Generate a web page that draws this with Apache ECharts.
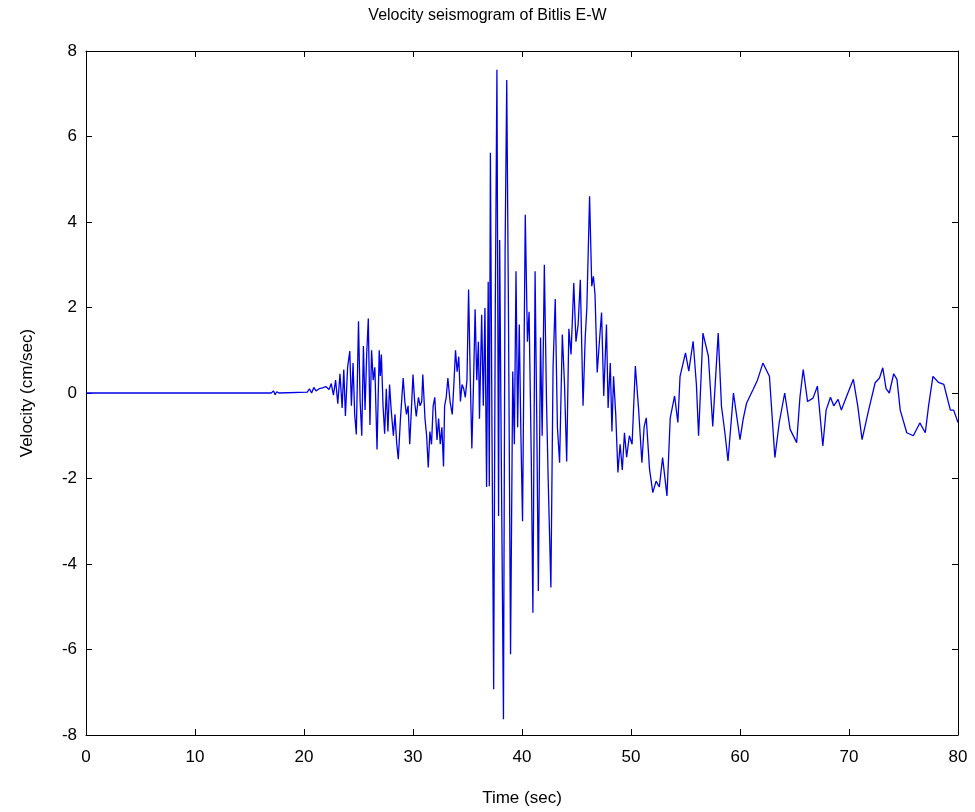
<!DOCTYPE html>
<html>
<head>
<meta charset="utf-8">
<title>Velocity seismogram of Bitlis E-W</title>
<script src="https://cdn.jsdelivr.net/npm/echarts@6/dist/echarts.min.js"></script>
<style>
  html, body { margin: 0; padding: 0; background: #fff; }
  #chart { width: 975px; height: 812px; }
</style>
</head>
<body>
<div id="chart"></div>
<script>
// [time (sec), velocity (cm/sec)]
const quietPart = [
  [0, 0.0], [17.0, 0.0], [17.2, 0.05], [17.35, -0.04], [17.5, 0.03], [17.7, 0.0],
  [20.3, 0.02], [20.5, 0.1], [20.7, 0.0], [20.9, 0.13], [21.1, 0.05], [21.4, 0.1],
  [21.7, 0.12], [22.0, 0.15], [22.3, 0.08], [22.5, 0.22]
];

const onsetPart = [
  [22.7, -0.05], [22.9, 0.3], [23.1, -0.25], [23.3, 0.45], [23.5, -0.35], [23.65, 0.55],
  [23.8, -0.54], [24.0, 0.6], [24.2, 0.98], [24.35, -0.3], [24.5, 0.7], [24.65, -0.5],
  [24.8, -0.97], [25.0, 1.68], [25.15, -0.2], [25.3, -1.0], [25.45, 1.1], [25.6, -0.4],
  [25.75, 0.9], [25.9, 1.74], [26.05, -0.75], [26.2, 1.0], [26.35, 0.3], [26.5, 0.6],
  [26.7, -1.32], [26.9, 1.0], [27.0, 0.4], [27.1, 0.9], [27.25, -0.3], [27.4, -0.95],
  [27.55, 0.1], [27.7, -0.9], [27.85, 0.2], [28.0, -0.4], [28.2, -1.0], [28.35, -0.5],
  [28.5, -1.16], [28.65, -1.55], [28.85, -0.6], [29.1, 0.35], [29.25, -0.2], [29.4, -0.5],
  [29.55, -0.3], [29.7, -1.2], [29.85, -0.4], [30.0, 0.43], [30.15, -0.2], [30.3, -0.55],
  [30.5, -0.1], [30.65, -0.3], [30.8, -0.2], [30.9, 0.43], [31.1, -0.6], [31.25, -1.0],
  [31.4, -1.74], [31.55, -0.9], [31.7, -1.2], [31.85, -0.3], [32.0, -0.1], [32.2, -1.1],
  [32.35, -0.6], [32.5, -1.2], [32.65, -0.8], [32.8, -1.72], [32.9, -0.3], [33.05, -0.1],
  [33.2, 0.35], [33.4, -0.2], [33.6, -0.5], [33.75, 0.2], [33.9, 1.0], [34.05, 0.5],
  [34.2, 0.85], [34.35, -0.2], [34.5, 0.2], [34.65, 0.1], [34.8, -0.1]
];

const strongPart = [
  [34.95, 0.3], [35.1, 2.42], [35.25, 0.4], [35.4, -1.3], [35.55, 0.2], [35.7, 1.96],
  [35.85, 0.3], [36.0, 1.2], [36.1, -0.6], [36.3, 1.83], [36.45, -0.3], [36.6, 1.99],
  [36.75, -2.2], [36.9, 2.6], [37.0, -2.18], [37.1, 5.62], [37.25, -1.0], [37.4, -6.93],
  [37.55, 2.0], [37.7, 7.56], [37.85, -2.88], [37.95, 3.58], [38.1, -1.5], [38.3, -7.63],
  [38.45, 3.35], [38.6, 7.32], [38.75, 2.2], [38.95, -6.11], [39.15, 0.5], [39.3, -1.2],
  [39.45, 2.85], [39.6, -0.8], [39.75, 1.6], [39.9, -1.0], [40.05, -3.0], [40.3, 4.17],
  [40.5, 1.2], [40.65, 1.9], [40.85, -1.5], [41.0, -5.14], [41.2, 2.85], [41.35, -0.5],
  [41.5, -4.63], [41.7, 1.3], [41.85, -1.0], [42.05, 3.0], [42.25, -0.2], [42.4, -2.0],
  [42.65, -4.55], [42.85, 0.6], [43.05, 2.2], [43.25, -0.8], [43.45, -1.63], [43.7, 1.37],
  [43.9, 0.2], [44.1, -1.6], [44.3, 1.5], [44.5, 0.9], [44.75, 2.57], [44.95, 1.2],
  [45.15, 1.6], [45.35, 2.65], [45.6, -0.3], [45.8, 1.3], [45.95, 2.0], [46.2, 4.6],
  [46.4, 2.5], [46.55, 2.73], [46.7, 2.3], [46.9, 0.48], [47.1, 1.2], [47.3, 1.88],
  [47.5, -0.07], [47.75, 1.6], [47.9, -0.35], [48.1, 0.7], [48.25, -0.9], [48.4, 0.39]
];

const codaPart = [
  [48.6, -0.5], [48.8, -1.86], [49.0, -1.2], [49.2, -1.8], [49.4, -0.93], [49.6, -1.5],
  [49.85, -1.0], [50.1, -1.2], [50.4, 0.63], [50.7, -0.39], [51.0, -1.63], [51.2, -0.8],
  [51.4, -0.58], [51.7, -1.78], [52.0, -2.33], [52.3, -2.06], [52.6, -2.2], [52.9, -1.51],
  [53.3, -2.41], [53.6, -0.58], [54.0, -0.07], [54.3, -0.69], [54.5, 0.39], [55.0, 0.94],
  [55.3, 0.51], [55.7, 1.21], [56.0, 0.2], [56.2, -1.0], [56.6, 1.4], [57.1, 0.86],
  [57.5, -0.78], [58.0, 1.4], [58.3, -0.31], [58.6, -0.9], [58.9, -1.59], [59.4, 0.0],
  [60.0, -1.09], [60.3, -0.6], [60.6, -0.24], [61.2, 0.08], [61.6, 0.3], [62.1, 0.7],
  [62.7, 0.39], [63.2, -1.51], [63.6, -0.69], [64.1, 0.0], [64.6, -0.85], [65.2, -1.16],
  [65.5, -0.1], [65.8, 0.55], [66.2, -0.2], [66.7, -0.12], [67.1, 0.16], [67.6, -1.24],
  [67.9, -0.4], [68.3, -0.1], [68.6, -0.3], [69.0, -0.15], [69.3, -0.4], [69.9, 0.0],
  [70.4, 0.32], [70.8, -0.3], [71.2, -1.09], [71.8, -0.4], [72.4, 0.24], [72.8, 0.35],
  [73.1, 0.59], [73.4, 0.1], [73.7, 0.0], [74.1, 0.45], [74.4, 0.32], [74.7, -0.4],
  [75.3, -0.93], [75.9, -1.0], [76.5, -0.7], [77.0, -0.93], [77.3, -0.3], [77.7, 0.39],
  [78.2, 0.25], [78.7, 0.2], [79.0, -0.1], [79.3, -0.4], [79.6, -0.4], [80.0, -0.69]
];

const xTicks = [0, 10, 20, 30, 40, 50, 60, 70, 80];
const yTicks = [-8, -6, -4, -2, 0, 2, 4, 6, 8];

const seismogram = quietPart.concat(onsetPart, strongPart, codaPart);

const font = 'Liberation Sans, Arial, sans-serif';
const axisLine = { show: true, onZero: false, lineStyle: { color: '#000', width: 1 } };
const tick = { show: true, inside: true, length: 6, lineStyle: { color: '#000' } };

const chart = echarts.init(document.getElementById('chart'));
chart.setOption({
  backgroundColor: '#fff',
  animation: false,
  title: {
    text: 'Velocity seismogram of Bitlis E-W',
    left: 'center',
    top: 3,
    textStyle: { fontFamily: font, fontSize: 16, fontWeight: 'normal', color: '#000' }
  },
  grid: { left: 86, right: 17, top: 51, bottom: 76 },
  xAxis: [
    {
      type: 'value', min: xTicks[0], max: xTicks[xTicks.length - 1], interval: 10,
      name: 'Time (sec)', nameLocation: 'middle', nameGap: 55,
      nameTextStyle: { fontFamily: font, fontSize: 17, color: '#000' },
      axisLine: axisLine, axisTick: tick, splitLine: { show: false },
      axisLabel: { fontFamily: font, fontSize: 17, color: '#000', margin: 14 }
    },
    {
      type: 'value', position: 'top', min: xTicks[0], max: xTicks[xTicks.length - 1], interval: 10,
      axisLine: axisLine, axisTick: tick, splitLine: { show: false }, axisLabel: { show: false }
    }
  ],
  yAxis: [
    {
      type: 'value', min: yTicks[0], max: yTicks[yTicks.length - 1], interval: 2,
      name: 'Velocity (cm/sec)', nameLocation: 'middle', nameGap: 50, nameRotate: 90,
      nameTextStyle: { fontFamily: font, fontSize: 17, color: '#000' },
      axisLine: axisLine, axisTick: tick, splitLine: { show: false },
      axisLabel: { fontFamily: font, fontSize: 17, color: '#000', margin: 9 }
    },
    {
      type: 'value', position: 'right', min: yTicks[0], max: yTicks[yTicks.length - 1], interval: 2,
      axisLine: axisLine, axisTick: tick, splitLine: { show: false }, axisLabel: { show: false }
    }
  ],
  series: [{
    type: 'line',
    data: seismogram,
    showSymbol: false,
    symbol: 'none',
    lineStyle: { color: '#0000e6', width: 1.3 },
    z: 1
  }]
});
</script>
</body>
</html>
